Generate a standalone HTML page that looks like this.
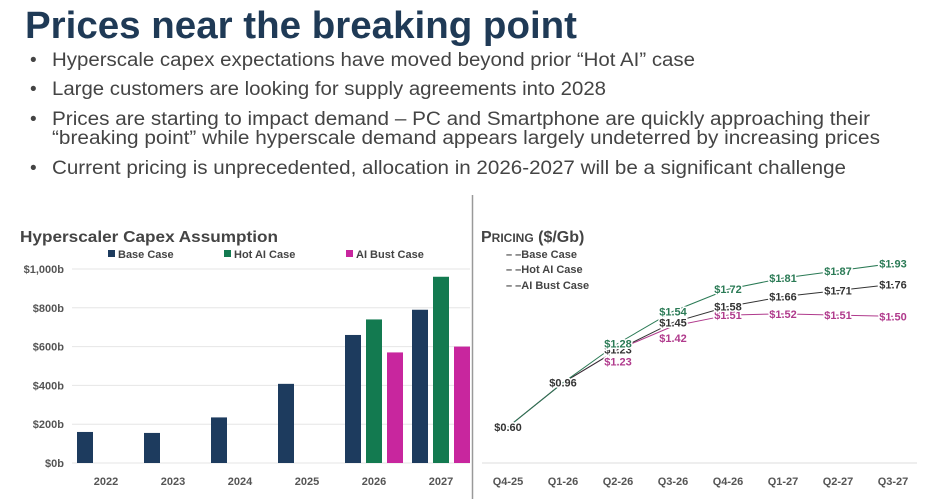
<!DOCTYPE html>
<html><head><meta charset="utf-8"><style>
body{margin:0;background:#fff;width:937px;height:499px;overflow:hidden}
svg{display:block;font-family:"Liberation Sans",sans-serif}
</style></head><body>
<svg id="s" width="937" height="499" viewBox="0 0 937 499">
<text x="25" y="38" font-size="38" font-weight="bold" fill="#1f3a56" textLength="552" lengthAdjust="spacingAndGlyphs">Prices near the breaking point</text>
<g fill="#444" font-size="19">
<text x="30" y="66">•</text><text x="52" y="66" textLength="643" lengthAdjust="spacingAndGlyphs">Hyperscale capex expectations have moved beyond prior “Hot AI” case</text>
<text x="30" y="95">•</text><text x="52" y="95" textLength="554" lengthAdjust="spacingAndGlyphs">Large customers are looking for supply agreements into 2028</text>
<text x="30" y="125">•</text><text x="52" y="125" textLength="818" lengthAdjust="spacingAndGlyphs">Prices are starting to impact demand – PC and Smartphone are quickly approaching their</text>
<text x="52" y="144" textLength="828" lengthAdjust="spacingAndGlyphs">“breaking point” while hyperscale demand appears largely undeterred by increasing prices</text>
<text x="30" y="174">•</text><text x="52" y="174" textLength="794" lengthAdjust="spacingAndGlyphs">Current pricing is unprecedented, allocation in 2026-2027 will be a significant challenge</text>
</g>
<line x1="472.5" y1="195" x2="472.5" y2="499" stroke="#999" stroke-width="1.5"/>
<text x="20" y="242" font-size="16" font-weight="bold" fill="#444" textLength="258" lengthAdjust="spacingAndGlyphs">Hyperscaler Capex Assumption</text>
<g id="bars"></g>
<text x="481" y="242" font-size="16" font-weight="bold" fill="#444">P<tspan font-size="12">RICING</tspan> ($/Gb)</text>
<g id="lines"></g>
</svg>
<script>
const years=["2022","2023","2024","2025","2026","2027"];
const baseCase=[160,155,235,408,660,790];
const hotCase=[null,null,null,null,740,960];
const bustCase=[null,null,null,null,570,600];
const yTicks=[0,200,400,600,800,1000];
const yTickLabels=["$0b","$200b","$400b","$600b","$800b","$1,000b"];

const quarters=["Q4-25","Q1-26","Q2-26","Q3-26","Q4-26","Q1-27","Q2-27","Q3-27"];
const priceBase=[0.60,0.96,1.23,1.45,1.58,1.66,1.71,1.76];
const priceHot=[null,0.96,1.28,1.54,1.72,1.81,1.87,1.93];
const priceBust=[null,0.96,1.23,1.42,1.51,1.52,1.51,1.50];

const NS="http://www.w3.org/2000/svg";
function mk(p,t,a,txt){const e=document.createElementNS(NS,t);for(const k in a)e.setAttribute(k,a[k]);if(txt!=null)e.textContent=txt;p.appendChild(e);return e;}
const B=document.getElementById('bars');
const yB=v=>463-v*0.194;
const xB=i=>106+i*67;
yTicks.forEach((t,i)=>{
 const g=mk(B,'line',{x1:72,x2:470,y1:yB(t),y2:yB(t),stroke:'#e6e6e6','stroke-width':1});
 
 const l=mk(B,'text',{x:64,y:yB(t)+4,'text-anchor':'end','font-size':11,'font-weight':'bold',fill:'#555'},yTickLabels[i]);
 
});
const series=[[baseCase,'#1d3b5e',-21,'capex-bar-base'],[hotCase,'#137a50',0,'capex-bar-hot'],[bustCase,'#c8269e',21,'capex-bar-bust']];
years.forEach((y,i)=>{
 series.forEach(s=>{const v=s[0][i];if(v==null)return;
  const r=mk(B,'rect',{x:xB(i)+s[2]-8,y:yB(v),width:16,height:yB(0)-yB(v),fill:s[1]});
  });
 const l=mk(B,'text',{x:xB(i),y:485,'text-anchor':'middle','font-size':11,'font-weight':'bold',fill:'#555'},y);
 
});
[['Base Case','#1d3b5e',108],['Hot AI Case','#137a50',224],['AI Bust Case','#c8269e',346]].forEach(d=>{
 const r=mk(B,'rect',{x:d[2],y:250,width:7,height:7,fill:d[1]});
 
 const t=mk(B,'text',{x:d[2]+10,y:258,'font-size':11,'font-weight':'bold',fill:'#444'},d[0]);
 
});

const L=document.getElementById('lines');
const xL=i=>508+i*55;
const yL=v=>427-(v-0.6)*123;
const ax=mk(L,'line',{x1:482,x2:917,y1:463,y2:463,stroke:'#ddd','stroke-width':1});

quarters.forEach((q,i)=>{const t=mk(L,'text',{x:xL(i),y:485,'text-anchor':'middle','font-size':11,'font-weight':'bold',fill:'#555'},q);
 });
const ls=[[priceBust,'#b03a8c','pricing-line-bust',1],[priceBase,'#333','pricing-line-base',0],[priceHot,'#2a7a55','pricing-line-hot',-1]];
ls.forEach(s=>{
 let pts=[];s[0].forEach((v,i)=>{if(v==null&&i==0)v=priceBase[0];if(v!=null)pts.push(xL(i)+','+yL(v));});
 const p=mk(L,'polyline',{points:pts.join(' '),fill:'none',stroke:s[1],'stroke-width':1});
 
});
ls.forEach(s=>{
 s[0].forEach((v,i)=>{if(v==null)return;if(i<2&&s[2]!='pricing-line-base')return;
  let dy=4;if(s[3]==1&&(i==2||i==3))dy=16;
  const t=mk(L,'text',{x:xL(i),y:yL(v)+dy,'text-anchor':'middle','font-size':11,'font-weight':'bold',fill:s[1],stroke:'#fff','stroke-width':3,'paint-order':'stroke'},'$'+v.toFixed(2));
  });
});
[['Base Case',258],['Hot AI Case',273],['AI Bust Case',289]].forEach(d=>{
 const t=mk(L,'text',{x:506,y:d[1],'font-size':11,'font-weight':'bold',fill:'#444'},'– –'+d[0]);
 
});
</script>
</body></html>
